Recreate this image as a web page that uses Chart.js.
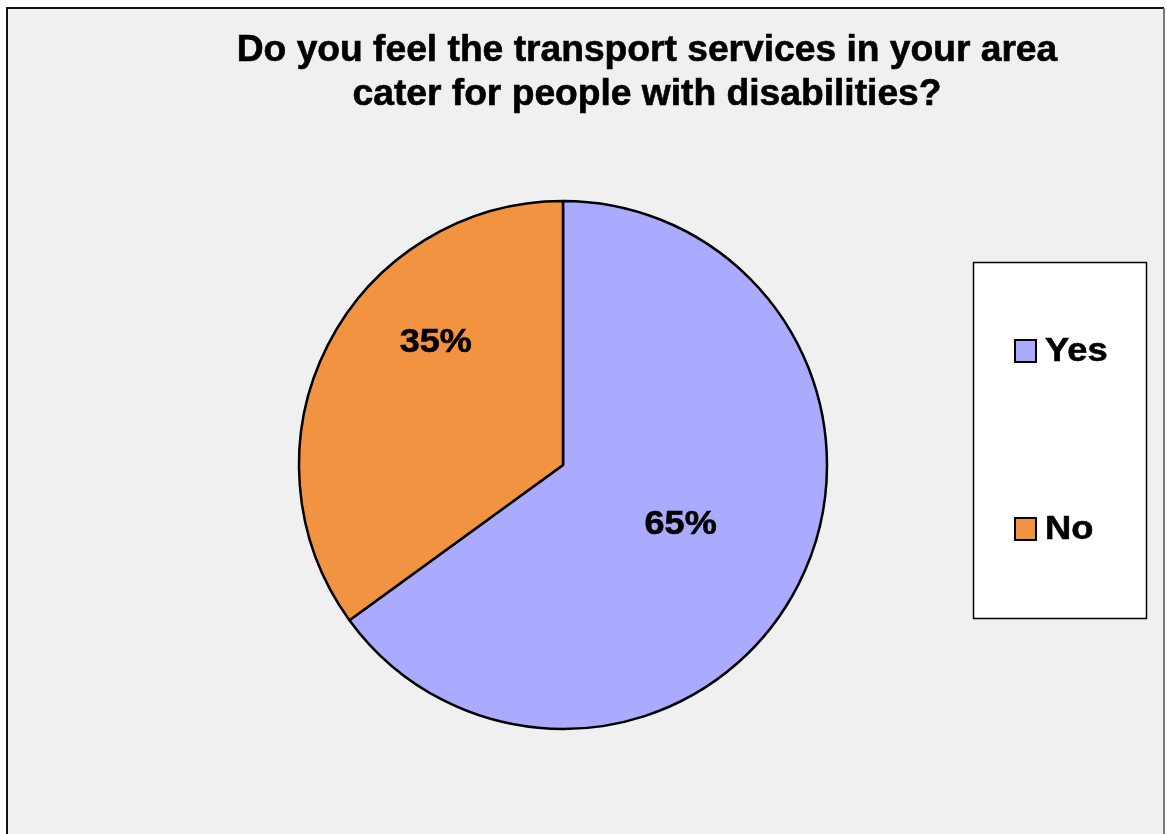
<!DOCTYPE html>
<html>
<head>
<meta charset="utf-8">
<title>Transport services and disabilities</title>
<script src="https://cdn.jsdelivr.net/npm/chart.js@4.4.0/dist/chart.umd.min.js"></script>
<style>
  html, body { margin: 0; padding: 0; background: #ffffff; }
  #wrap { width: 1167px; height: 834px; position: relative; }
</style>
</head>
<body>
<div id="wrap"><canvas id="pie"></canvas></div>
<script>
// survey answers
const categories = ['Yes', 'No'];
const shares = [65, 35];
const sliceColors = ['#aaaaff', '#f29341'];
const titleLines = ['Do you feel the transport services in your area', 'cater for people with disabilities?'];

const FONT = '"Liberation Sans", Arial, sans-serif';

// bold text, slightly widened and thickened
function heavyText(ctx, text, x, y, sx) {
    ctx.save();
    ctx.translate(x, y);
    ctx.scale(sx, 1);
    ctx.lineWidth = 0.6;
    ctx.strokeStyle = ctx.fillStyle;
    ctx.fillText(text, 0, 0);
    ctx.strokeText(text, 0, 0);
    ctx.restore();
}

// grey panel with its frame, drawn behind everything
const panelPlugin = {
    id: 'panel',
    beforeDraw(chart) {
        const ctx = chart.ctx;
        ctx.save();
        ctx.fillStyle = '#ffffff';
        ctx.fillRect(0, 0, chart.width, chart.height);
        ctx.fillStyle = '#f0f0f0';
        ctx.fillRect(7, 8, 1157, chart.height);
        ctx.lineWidth = 2;
        ctx.strokeStyle = '#111111';
        ctx.beginPath();
        ctx.moveTo(7, chart.height + 2);
        ctx.lineTo(7, 8);
        ctx.lineTo(1164, 8);
        ctx.stroke();
        ctx.strokeStyle = '#777777';
        ctx.beginPath();
        ctx.moveTo(1164, 8);
        ctx.lineTo(1164, chart.height + 2);
        ctx.stroke();
        ctx.restore();
    }
};

// two-line bold title, centred over the plot + legend block
const titlePlugin = {
    id: 'bigTitle',
    afterDraw(chart) {
        const ctx = chart.ctx;
        ctx.save();
        ctx.font = 'bold 36px ' + FONT;
        ctx.fillStyle = '#000';
        ctx.textAlign = 'center';
        ctx.textBaseline = 'alphabetic';
        heavyText(ctx, titleLines[0], 647, 61, 1.033);
        heavyText(ctx, titleLines[1], 647, 105, 1.033);
        ctx.restore();
    }
};

// percentage labels: angle shift (deg) and fraction of the radius per slice
const labelPlacement = [
    { shift: 0, frac: 0.50 },
    { shift: 17, frac: 0.67 }
];
const pctLabels = {
    id: 'pctLabels',
    afterDatasetsDraw(chart) {
        const ctx = chart.ctx;
        const meta = chart.getDatasetMeta(0);
        const total = shares.reduce((a, b) => a + b, 0);
        ctx.save();
        ctx.font = 'bold 34px ' + FONT;
        ctx.fillStyle = '#000';
        ctx.textAlign = 'center';
        ctx.textBaseline = 'middle';
        meta.data.forEach((arc, i) => {
            const p = arc.getProps(['x', 'y', 'startAngle', 'endAngle', 'outerRadius'], true);
            const a = (p.startAngle + p.endAngle) / 2 + labelPlacement[i].shift * Math.PI / 180;
            const r = p.outerRadius * labelPlacement[i].frac;
            const txt = Math.round(shares[i] / total * 100) + '%';
            heavyText(ctx, txt, p.x + Math.cos(a) * r, p.y + Math.sin(a) * r, 1.06);
        });
        ctx.restore();
    }
};

// boxed legend on the right
const boxLegend = {
    id: 'boxLegend',
    afterDraw(chart) {
        const ctx = chart.ctx;
        const ds = chart.data.datasets[0];
        ctx.save();
        ctx.fillStyle = '#ffffff';
        ctx.fillRect(973, 262, 173, 356);
        ctx.lineWidth = 1.5;
        ctx.strokeStyle = '#000';
        ctx.strokeRect(973.5, 262.5, 173, 356);
        ctx.font = 'bold 33px ' + FONT;
        ctx.textAlign = 'left';
        ctx.textBaseline = 'alphabetic';
        chart.data.labels.forEach((lab, i) => {
            const y = 340 + i * 178;
            ctx.fillStyle = ds.backgroundColor[i];
            ctx.fillRect(1015, y, 21, 22);
            ctx.lineWidth = 2;
            ctx.strokeStyle = '#000';
            ctx.strokeRect(1015, y, 21, 22);
            ctx.fillStyle = '#000';
            heavyText(ctx, lab, 1045, y + 21, 1.1);
        });
        ctx.restore();
    }
};

new Chart(document.getElementById('pie'), {
    type: 'pie',
    data: {
        labels: categories,
        datasets: [{
            data: shares,
            backgroundColor: sliceColors,
            borderColor: '#000000',
            borderWidth: 2.5,
            radius: 264
        }]
    },
    options: {
        responsive: true,
        maintainAspectRatio: false,
        animation: false,
        layout: { padding: { top: 192, bottom: 96, left: 290, right: 331 } },
        plugins: {
            legend: { display: false },
            title: { display: false },
            tooltip: { enabled: false }
        }
    },
    plugins: [panelPlugin, titlePlugin, pctLabels, boxLegend]
});
</script>
</body>
</html>
